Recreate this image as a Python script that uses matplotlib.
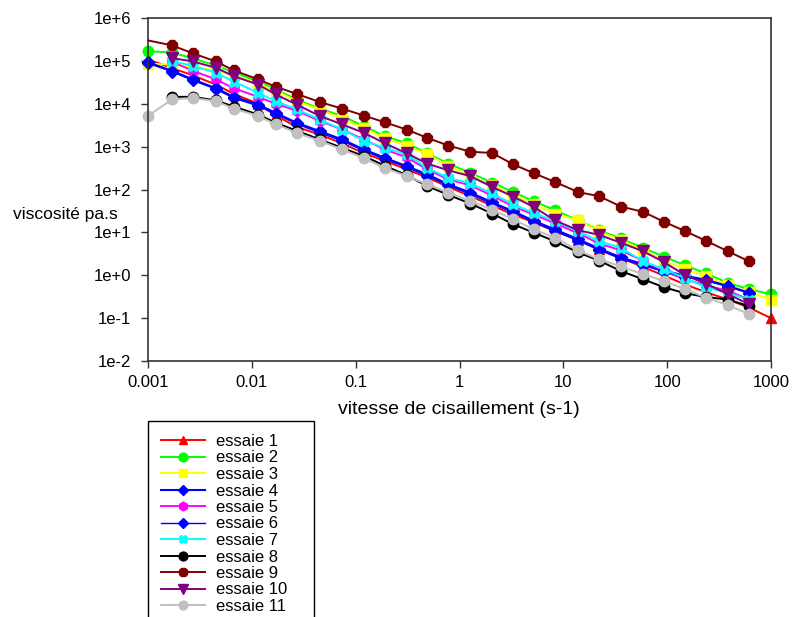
import numpy as np
import matplotlib
matplotlib.use("Agg")
import matplotlib.pyplot as plt
from matplotlib.ticker import FixedLocator, FixedFormatter, NullLocator

plt.rcParams['font.family'] = ['Liberation Sans', 'DejaVu Sans']

nan = np.nan

# shear rate (s-1) at which the rheometer logged each point
shear_rate = [0.001, 0.0017, 0.0027, 0.0045, 0.0067, 0.0115, 0.017, 0.027, 0.045, 0.074,
              0.12, 0.19, 0.31, 0.49, 0.78, 1.27, 2.06, 3.3, 5.2, 8.3,
              13.9, 22, 36, 59, 94, 149, 238, 387, 617, 1000]

# viscosity (Pa.s) for each run, nan where no point was recorded
essaie_1 = [1.08e5, 6.8e4, 4.6e4, 2.8e4, 1.7e4, 1.0e4, 5.3e3, 2.9e3, 1.9e3, 1.2e3,
            700, 470, 294, 190, 115, 70, 42, 26, 17, 10.6,
            6.6, 4.0, 2.5, 1.55, 0.97, 0.61, 0.40, 0.27, 0.175, 0.1]
essaie_2 = [1.68e5, 1.57e5, 1.14e5, 7.8e4, 5.4e4, 3.3e4, 2.15e4, 1.26e4, 7.7e3, 5.2e3,
            3.0e3, 1.77e3, 1.2e3, 700, 400, 245, 145, 87, 53, 33,
            19, 11.2, 7.2, 4.3, 2.7, 1.7, 1.1, 0.66, 0.47, 0.36]
essaie_3 = [8.6e4, 8.2e4, 7.4e4, 6.0e4, 4.6e4, 2.9e4, 2.0e4, 1.15e4, 7.4e3, 4.5e3,
            2.7e3, 1.55e3, 1.06e3, 660, 360, 205, 125, 72, 45, 27.5,
            19, 10.6, 6.6, 3.8, 2.15, 1.37, 0.95, 0.58, 0.40, 0.27]
essaie_4 = [9.2e4, 5.9e4, 3.7e4, 2.3e4, 1.45e4, 9.6e3, 6.1e3, 3.6e3, 2.3e3, 1.47e3,
            860, 550, 350, 225, 132, 85, 50, 31, 18.5, 11.7,
            6.9, 4.2, 2.6, 1.8, 1.28, 0.97, 0.78, 0.56, 0.39, nan]
essaie_5 = [nan, 9.5e4, 5.9e4, 3.7e4, 2.3e4, 1.45e4, 1.0e4, 6.9e3, 4.0e3, 2.5e3,
            1.47e3, 860, 560, 294, 172, 125, 72, 40, 26, 16.3,
            9.5, 5.5, 3.8, 2.15, 1.23, 0.8, 0.58, 0.43, 0.27, nan]
essaie_6 = [8.8e4, 5.6e4, 3.5e4, 2.2e4, 1.35e4, 8.9e3, 5.7e3, 3.4e3, 2.1e3, 1.36e3,
            800, 510, 330, 205, 124, 78, 46, 29, 17.5, 10.8,
            6.4, 3.9, 2.4, 1.7, 1.2, 0.92, 0.74, 0.54, 0.38, nan]
essaie_7 = [nan, 1.0e5, 7.6e4, 5.3e4, 3.3e4, 1.8e4, 1.15e4, 7.4e3, 4.3e3, 2.5e3,
            1.37e3, 940, 660, 320, 185, 140, 81, 45, 28.5, 18.2,
            10.6, 6.3, 4.3, 2.1, 1.37, 0.86, 0.52, 0.38, 0.27, nan]
essaie_8 = [nan, 1.45e4, 1.45e4, 1.2e4, 8.6e3, 5.6e3, 3.6e3, 2.35e3, 1.47e3, 940,
            600, 360, 215, 120, 75, 47, 27.5, 15.4, 9.8, 6.2,
            3.4, 2.2, 1.25, 0.80, 0.52, 0.38, 0.31, 0.27, 0.19, nan]
essaie_9 = [3.0e5, 2.3e5, 1.5e5, 9.7e4, 6.0e4, 3.7e4, 2.5e4, 1.7e4, 1.1e4, 7.7e3,
            5.3e3, 3.7e3, 2.5e3, 1.6e3, 1.06e3, 760, 710, 385, 240, 150,
            87, 70, 40, 30, 17.5, 10.7, 6.3, 3.6, 2.1, nan]
essaie_10 = [nan, 1.16e5, 9.7e4, 6.9e4, 4.4e4, 2.8e4, 1.65e4, 9.6e3, 5.2e3, 3.3e3,
             2.1e3, 1.2e3, 700, 400, 280, 205, 115, 68, 39, 19,
             11.2, 8.8, 5.7, 3.6, 2.0, 1.0, 0.63, 0.36, 0.21, nan]
essaie_11 = [5.2e3, 1.26e4, 1.36e4, 1.15e4, 7.7e3, 5.2e3, 3.3e3, 2.1e3, 1.37e3, 860,
             535, 320, 205, 132, 85, 54, 34, 20, 11.7, 7.5,
             3.8, 2.35, 1.6, 1.05, 0.73, 0.47, 0.30, 0.20, 0.123, nan]

series_labels = ['essaie 1', 'essaie 2', 'essaie 3', 'essaie 4', 'essaie 5', 'essaie 6',
                 'essaie 7', 'essaie 8', 'essaie 9', 'essaie 10', 'essaie 11']
series_values = [essaie_1, essaie_2, essaie_3, essaie_4, essaie_5, essaie_6,
                 essaie_7, essaie_8, essaie_9, essaie_10, essaie_11]

x_ticks = [0.001, 0.01, 0.1, 1, 10, 100, 1000]
x_tick_labels = ['0.001', '0.01', '0.1', '1', '10', '100', '1000']
y_ticks = [1e-2, 1e-1, 1e0, 1e1, 1e2, 1e3, 1e4, 1e5, 1e6]
y_tick_labels = ['1e-2', '1e-1', '1e+0', '1e+1', '1e+2', '1e+3', '1e+4', '1e+5', '1e+6']

# line colour, marker, marker size, line width for each run
styles = [
    ('#ff0000', '^', 7.5, 1.4),
    ('#00ff00', 'o', 7.5, 1.4),
    ('#ffff00', 's', 7.0, 1.4),
    ('#0000ff', 'D', 6.5, 1.5),
    ('#ff00ff', 'h', 7.5, 1.4),
    ('#0000ff', 'D', 6.0, 1.0),
    ('#00ffff', 'X', 7.5, 1.4),
    ('#000000', 'o', 7.5, 1.4),
    ('#800000', '8', 7.5, 1.4),
    ('#800080', 'v', 8.0, 1.4),
    ('#c0c0c0', 'o', 7.5, 1.4),
]

W, H = 792, 617
fig = plt.figure(figsize=(W / 100, H / 100), dpi=100)
ax = fig.add_axes([148 / W, 1 - 361 / H, (771 - 148) / W, (361 - 18) / H])

x = np.array(shear_rate)
for label, values, (color, marker, ms, lw) in zip(series_labels, series_values, styles):
    y = np.array(values, dtype=float)
    # essaie 9 has no symbol on its first point
    every = slice(1, None) if label == 'essaie 9' else None
    ax.plot(x, y, color=color, marker=marker, markersize=ms, linewidth=lw,
            markeredgecolor=color, markerfacecolor=color, markevery=every,
            label=label, clip_on=False)

ax.set_xscale('log')
ax.set_yscale('log')
ax.set_xlim(0.001, 1000)
ax.set_ylim(1e-2, 1e6)

ax.xaxis.set_major_locator(FixedLocator(x_ticks))
ax.xaxis.set_major_formatter(FixedFormatter(x_tick_labels))
ax.yaxis.set_major_locator(FixedLocator(y_ticks))
ax.yaxis.set_major_formatter(FixedFormatter(y_tick_labels))
ax.xaxis.set_minor_locator(NullLocator())
ax.yaxis.set_minor_locator(NullLocator())

ax.tick_params(axis='both', which='major', direction='out', length=5, width=1,
               labelsize=12, color='#333333')
ax.tick_params(axis='y', pad=7)
ax.tick_params(axis='x', pad=5)
for side in ax.spines.values():
    side.set_linewidth(1.2)
    side.set_color('#333333')

fig.text(459 / W, 1 - 410 / H, 'vitesse de cisaillement (s-1)', ha='center', va='center',
         fontsize=14)
fig.text(13 / W, 1 - 215 / H, 'viscosité pa.s', ha='left', va='center', fontsize=12.5)

# legend box hangs below the bottom edge of the figure
leg_top = 1 - 421 / H
leg = ax.legend(loc='upper left', bbox_to_anchor=(148 / W, leg_top - 0.5, 166 / W, 0.5),
                bbox_transform=fig.transFigure, mode='expand', fontsize=12,
                frameon=True, fancybox=False, edgecolor='black', framealpha=1,
                borderaxespad=0, borderpad=0.78, labelspacing=0.09, handlelength=2.65,
                handletextpad=0.65, markerscale=0.85)
leg.get_frame().set_linewidth(1.0)

fig.savefig('out.png', dpi=100)
